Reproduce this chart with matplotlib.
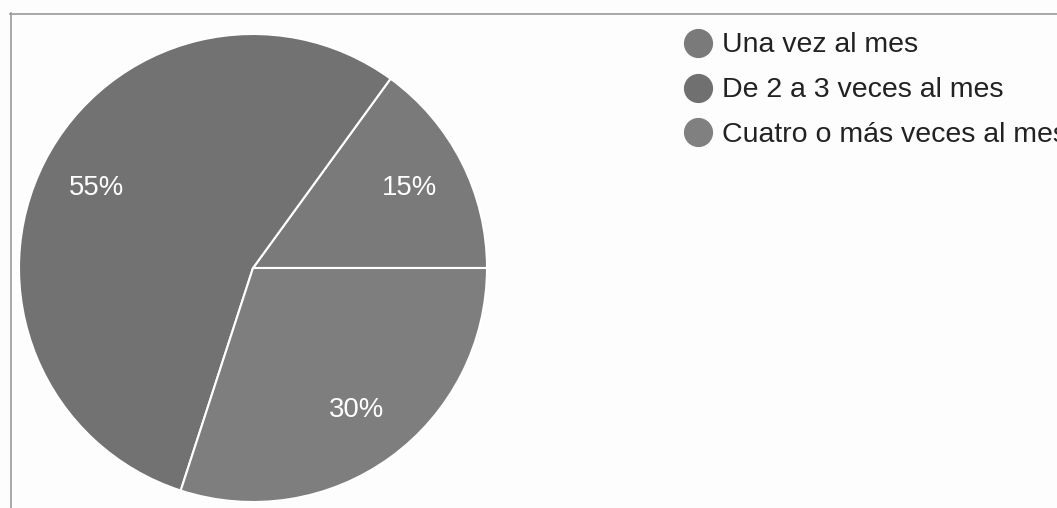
import matplotlib
matplotlib.use("Agg")
import matplotlib.pyplot as plt
from matplotlib.lines import Line2D

labels = ["Una vez al mes", "De 2 a 3 veces al mes", "Cuatro o más veces al mes"]
values = [15, 55, 30]
slice_colors = ["#7a7a7a", "#727272", "#7e7e7e"]
legend_colors = ["#7a7a7a", "#707070", "#808080"]

W, H = 1057, 508
plt.rcParams["font.family"] = ["Liberation Sans", "DejaVu Sans"]
fig = plt.figure(figsize=(W / 100, H / 100), dpi=100, facecolor="#fdfdfd")

# pie area: centre (253, 268) px, radius 234 px
cx, cy, r = 253, 268, 234
ax = fig.add_axes([(cx - r) / W, (H - cy - r) / H, 2 * r / W, 2 * r / H])
wedges, texts, autotexts = ax.pie(
    values, colors=slice_colors, startangle=0, counterclock=True,
    autopct="%d%%", pctdistance=0.75, radius=1.0,
    wedgeprops=dict(edgecolor="white", linewidth=1.5),
    textprops=dict(color="white", fontsize=19.8),
)
ax.set_xlim(-1, 1)
ax.set_ylim(-1, 1)
ax.set_aspect("equal")
ax.axis("off")

# frame around the chart area
fig.add_artist(Line2D([10.5 / W, 10.5 / W], [0, 1 - 13 / H], transform=fig.transFigure,
                      color="#9a9a9a", linewidth=1.2))
fig.add_artist(Line2D([10 / W, 1], [1 - 13.5 / H, 1 - 13.5 / H], transform=fig.transFigure,
                      color="#9a9a9a", linewidth=1.2))

# legend
row_y = [43, 87.5, 132]
for lab, col, y in zip(labels, legend_colors, row_y):
    fig.add_artist(Line2D([698 / W], [1 - y / H], transform=fig.transFigure,
                          marker="o", markersize=20, color=col, linestyle="none"))
    fig.text(722 / W, 1 - (y + 9.5) / H, lab, fontsize=20.5, color="#222222",
             va="baseline", ha="left")

fig.savefig("out.png", dpi=100, facecolor=fig.get_facecolor())
